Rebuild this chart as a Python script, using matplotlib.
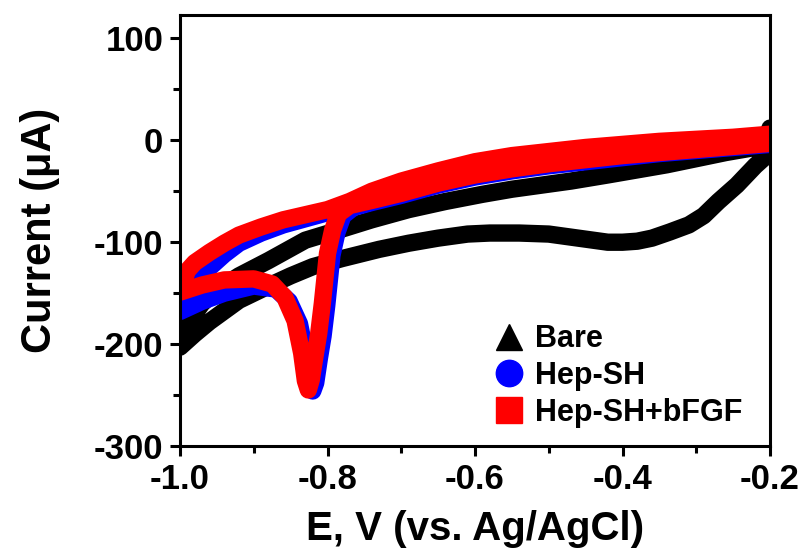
import numpy as np
import matplotlib
matplotlib.use("Agg")
import matplotlib.pyplot as plt
from matplotlib.lines import Line2D
from matplotlib.ticker import MultipleLocator

plt.rcParams['font.family'] = ['Liberation Sans', 'DejaVu Sans']
plt.rcParams['font.weight'] = 'bold'

# Bare electrode: cathodic sweep (-0.2 -> -1.0) then anodic return (-1.0 -> -0.2)
bare_E = [-0.20, -0.22, -0.245, -0.27, -0.29, -0.31, -0.336, -0.36, -0.38, -0.40,
          -0.42, -0.45, -0.47, -0.50, -0.54, -0.58, -0.61, -0.65, -0.69, -0.73,
          -0.78, -0.82, -0.85, -0.88, -0.92, -0.96, -0.98, -1.0,
          -0.99, -0.97, -0.95, -0.92, -0.88, -0.83, -0.78, -0.74, -0.69, -0.64,
          -0.59, -0.55, -0.50, -0.47, -0.42, -0.38, -0.34, -0.30, -0.26, -0.22,
          -0.205, -0.20]
bare_I = [-12, -25, -44, -60, -74, -83, -90, -96, -99, -100,
          -100, -97, -95, -92, -91, -91, -92, -96, -101, -107,
          -116, -124, -133, -143, -157, -178, -190, -203,
          -180, -160, -147, -133, -118, -98, -87, -78, -68, -60,
          -53, -48, -43, -40, -34, -29, -24, -18, -12, -7,
          -2, 12]

# Hep-SH
hep_E = [-0.20, -0.25, -0.30, -0.35, -0.40, -0.45, -0.50, -0.55, -0.60, -0.65,
         -0.70, -0.74, -0.765, -0.779, -0.787, -0.794, -0.801, -0.806, -0.811, -0.816,
         -0.820, -0.824, -0.829, -0.838, -0.852, -0.87, -0.90, -0.94, -0.97, -1.0,
         -0.99, -0.98, -0.96, -0.94, -0.92, -0.89, -0.86, -0.83, -0.80, -0.77,
         -0.74, -0.70, -0.65, -0.60, -0.55, -0.50, -0.45, -0.40, -0.35, -0.30,
         -0.25, -0.20]
hep_I = [-4, -7, -10, -13, -17, -21, -25, -30, -36, -44,
         -54, -61, -66, -74, -90, -113, -162, -192, -214, -238,
         -246, -238, -212, -180, -158, -146, -143, -150, -158, -168,
         -150, -140, -125, -112, -101, -91, -83, -77, -71, -64,
         -55, -45, -35, -26, -19, -14, -9, -6, -3, -1,
         1, 3]

# Hep-SH+bFGF
fgf_E = [-0.20, -0.25, -0.30, -0.35, -0.40, -0.45, -0.50, -0.55, -0.60, -0.65,
         -0.70, -0.74, -0.77, -0.785, -0.793, -0.80, -0.807, -0.812, -0.817, -0.822,
         -0.826, -0.830, -0.835, -0.844, -0.858, -0.875, -0.90, -0.94, -0.97, -1.0,
         -0.99, -0.98, -0.96, -0.94, -0.92, -0.89, -0.86, -0.83, -0.80, -0.77,
         -0.74, -0.70, -0.65, -0.60, -0.55, -0.50, -0.45, -0.40, -0.35, -0.30,
         -0.25, -0.20]
fgf_I = [-3, -6, -9, -12, -15, -19, -23, -28, -34, -42,
         -52, -59, -64, -72, -88, -111, -160, -190, -212, -235,
         -245, -236, -209, -177, -154, -141, -136, -137, -142, -149,
         -128, -120, -110, -101, -93, -85, -78, -73, -68, -60,
         -50, -40, -30, -21, -15, -11, -7, -4, -1, 1,
         3, 6]

labels = ['Bare', 'Hep-SH', 'Hep-SH+bFGF']
colors = ['black', '#0000ff', '#ff0000']
markers = ['^', 'o', 's']

fig = plt.figure(figsize=(8.08, 5.56), dpi=100)
ax = fig.add_axes([180 / 808, 1 - 446 / 556, 590 / 808, 431 / 556])

series = [(bare_E, bare_I), (hep_E, hep_I), (fgf_E, fgf_I)]
for (E, I), c in zip(series, colors):
    ax.plot(E, I, color=c, lw=12.5, solid_joinstyle='round', solid_capstyle='round')

ax.set_xlim(-1.0, -0.2)
ax.set_ylim(-300, 123)
ax.xaxis.set_minor_locator(MultipleLocator(0.1))
ax.yaxis.set_minor_locator(MultipleLocator(50))
ax.set_xticks([-1.0, -0.8, -0.6, -0.4, -0.2])
ax.set_xticklabels(['-1.0', '-0.8', '-0.6', '-0.4', '-0.2'])
ax.set_yticks([-300, -200, -100, 0, 100])
ax.set_yticklabels(['-300', '-200', '-100', '0', '100'])

for s in ax.spines.values():
    s.set_linewidth(2.2)
ax.tick_params(which='major', direction='out', length=7, width=2.2, labelsize=25, pad=5)
ax.tick_params(which='minor', direction='out', length=5, width=2.2)

ax.set_xlabel('E, V (vs. Ag/AgCl)', fontsize=29, fontweight='bold', labelpad=10)
ax.set_ylabel('Current (μA)', fontsize=30, fontweight='bold', labelpad=24)

handles = [Line2D([], [], color=c, marker=m, linestyle='none', markersize=19)
           for c, m in zip(colors, markers)]
ax.legend(handles, labels, loc='upper left', bbox_to_anchor=(0.5, 0.318),
          frameon=False, fontsize=22, handletextpad=0.25, labelspacing=0.22,
          handlelength=1.2, borderpad=0)

fig.savefig('out.png', dpi=100)
